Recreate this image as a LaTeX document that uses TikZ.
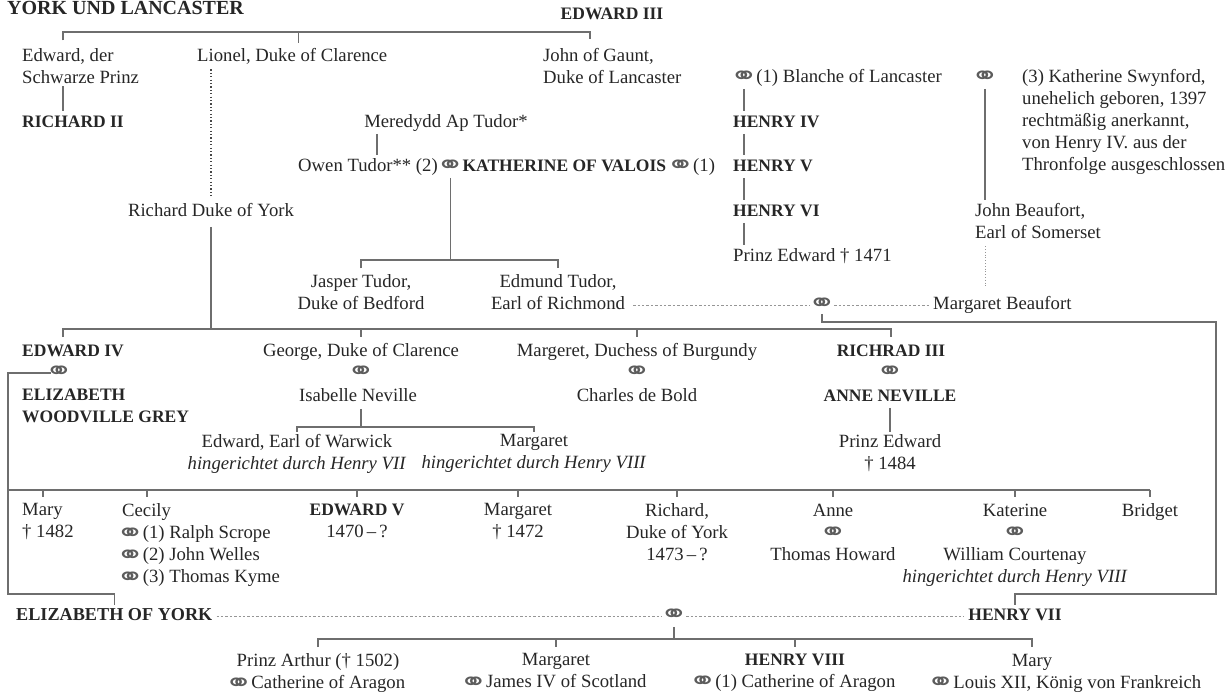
\documentclass[tikz,border=0pt]{standalone}
\usepackage{fontspec}
\setmainfont{Liberation Serif}
\newfontfamily\ringfont{DejaVu Sans}
\usepackage{graphicx}
\usepackage{xcolor}
\usepackage{tikz}
\usetikzlibrary{positioning, calc}
\definecolor{ink}{RGB}{38,38,38}
\definecolor{linegray}{RGB}{110,110,110}
\definecolor{dotgray}{RGB}{150,150,150}
\newcommand{\marr}{\makebox[16pt]{\raisebox{-2.5pt}{\color{ink!75}\ringfont\fontsize{14}{14}\selectfont\scalebox{2.4}[1.8]{⚭}}}}
\tikzset{
  % Namen
  person/.style={inner sep=0pt, text=ink, font=\fontsize{18.7}{22}\selectfont},
  one line/.style={person, text height=13pt, text depth=4.5pt},
  king/.style={one line, font=\fontsize{17.5}{22}\selectfont\bfseries},
  ring/.style={one line},
  block/.style={person, align=center, anchor=north},
  block left/.style={person, align=left, anchor=north west},
  % Verbindungen
  connect/.style={line width=1.1pt, linegray},
  link/.style={connect, shorten <=2pt, shorten >=3pt},
  connect dotted/.style={line width=1.2pt, ink!85, dash pattern=on 1.2pt off 2.2pt},
  connect faint/.style={line width=1pt, dotgray, dash pattern=on 1pt off 1.8pt},
  connect dashed/.style={line width=0.9pt, dotgray, dash pattern=on 2.4pt off 2pt, shorten <=4pt, shorten >=4pt}
}
\begin{document}
\begin{tikzpicture}[x=1pt,y=-1pt]
  \useasboundingbox (0,0) rectangle (1228,700);
  % Kopf
  \node[king, anchor=west, font=\fontsize{20}{22}\selectfont\bfseries] (title) at (7,10) {YORK UND LANCASTER};
  \node[king] (edw3) at (612,15) {EDWARD III};
  % Söhne Edwards III
  \node[block left] (edprince) at (22,48.5) {Edward, der\\Schwarze Prinz};
  \node[one line, anchor=west] (lionel) at (197,57) {Lionel, Duke of Clarence};
  \node[block left] (gaunt) at (543,48.5) {John of Gaunt,\\Duke of Lancaster};
  \node[ring] (mblanche) at (744,78) {\marr};
  \node[one line, right=4pt of mblanche] (blanche) {(1) Blanche of Lancaster};
  \node[ring] (mswyn) at (985,78) {\marr};
  \node[block left] (swyn) at (1022,69.5) {(3) Katherine Swynford,\\unehelich geboren, 1397\\rechtmäßig anerkannt,\\von Henry IV. aus der\\Thronfolge ausgeschlossen};
  \node[king, anchor=west] (rich2) at (22,123) {RICHARD II};
  \node[one line] (meredydd) at (446,123) {Meredydd Ap Tudor*};
  \node[king, anchor=west] (henry4) at (733,123) {HENRY IV};
  \node[one line, anchor=west] (owen) at (298,167) {Owen Tudor** (2)};
  \node[ring, right=4pt of owen] (mowen) {\marr};
  \node[king, right=4pt of mowen] (kath) {KATHERINE OF VALOIS};
  \node[one line, right=6pt of kath] (mkath) {\marr\ (1)};
  \node[king, anchor=west] (henry5) at (733,167) {HENRY V};
  \node[one line] (rdy) at (211,212) {Richard Duke of York};
  \node[king, anchor=west] (henry6) at (733,212) {HENRY VI};
  \node[block left] (beaufort) at (975,203.5) {John Beaufort,\\Earl of Somerset};
  \node[one line, anchor=west] (pedw) at (733,257) {Prinz Edward † 1471};
  \node[block] (jasper) at (361,274.5) {Jasper Tudor,\\Duke of Bedford};
  \node[block] (edmund) at (558,274.5) {Edmund Tudor,\\Earl of Richmond};
  \node[ring] (mtudor) at (822,305) {\marr};
  \node[one line, anchor=west] (mbeau) at (933,305) {Margaret Beaufort};
  % York
  \node[king, anchor=west] (edw4) at (22,352) {EDWARD IV};
  \node[ring] (m4) at (59,373) {\marr};
  \node[block left, font=\fontsize{17.5}{22}\selectfont\bfseries] (eliz) at (22,388.5) {ELIZABETH\\WOODVILLE GREY};
  \node[one line] (george) at (361,352) {George, Duke of Clarence};
  \node[ring] (gm) at (361,373) {\marr};
  \node[one line] (isabelle) at (358,397) {Isabelle Neville};
  \node[block] (warwick) at (297,434.5) {Edward, Earl of Warwick\\\textit{hingerichtet durch Henry VII}};
  \node[block] (margneville) at (534,434.5) {Margaret\\\textit{hingerichtet durch Henry VIII}};
  \node[one line] (burg) at (637,352) {Margeret, Duchess of Burgundy};
  \node[ring] (bm) at (637,373) {\marr};
  \node[one line] (charles) at (637,397) {Charles de Bold};
  \node[king] (r3) at (891,352) {RICHRAD III};
  \node[ring] (r3m) at (890,373) {\marr};
  \node[king] (anne) at (890,397) {ANNE NEVILLE};
  \node[block] (pe) at (890,434.5) {Prinz Edward\\† 1484};
  % Kinder Edwards IV
  \node[block left] (mary) at (22,503.5) {Mary\\† 1482};
  \node[block left] (cecily) at (122,503.5) {Cecily\\\marr\ (1) Ralph Scrope\\\marr\ (2) John Welles\\\marr\ (3) Thomas Kyme};
  \node[block] (edw5) at (357,503.5) {{\fontsize{17.5}{22}\selectfont\bfseries EDWARD V}\\1470\,–\,?};
  \node[block] (marg2) at (518,503.5) {Margaret\\† 1472};
  \node[block] (rich) at (677,503.5) {Richard,\\Duke of York\\1473\,–\,?};
  \node[block] (anne2) at (833,503.5) {Anne\\\marr\\Thomas Howard};
  \node[block] (kat) at (1015,503.5) {Katerine\\\marr\\William Courtenay\\\textit{hingerichtet durch Henry VIII}};
  \node[block] (bridget) at (1150,503.5) {Bridget};
  % Tudor
  \node[king, anchor=west, font=\fontsize{18.2}{22}\selectfont\bfseries] (eyork) at (16,616) {ELIZABETH OF YORK};
  \node[ring] (m7) at (674,616) {\marr};
  \node[king] (henry7) at (1015,616) {HENRY VII};
  \node[block] (arthur) at (318,653.5) {Prinz Arthur († 1502)\\\marr\ Catherine of Aragon};
  \node[block] (marg3) at (556,653.5) {Margaret\\\marr\ James IV of Scotland};
  \node[block] (henry8) at (795,653.5) {{\fontsize{17.5}{22}\selectfont\bfseries HENRY VIII}\\\marr\ (1) Catherine of Aragon};
  \node[one line] (mary3) at (1032,662) {Mary};
  \node[one line] (louis) at (1067,684) {\marr\ Louis XII, König von Frankreich};

  % Linien
  \coordinate (bar3) at (0,32);
  \coordinate (bartudor) at (0,260);
  \coordinate (bar4) at (0,329);
  \coordinate (barneville) at (0,427);
  \coordinate (bar5) at (0,490);
  \coordinate (lowbar) at (0,594);
  \coordinate (bar7) at (0,639);
  \coordinate (rc) at (1216,322);
  \coordinate (lc) at (8,373);
  \coordinate (owenline) at ([xshift=79pt]owen.north west);
  \coordinate (gaunttick) at ([xshift=47pt,yshift=9pt]gaunt.north west);
  \coordinate (lioneltick) at ([xshift=6pt,yshift=5pt]lionel.north);
  \coordinate (marytick) at ([xshift=21pt,yshift=6.5pt]mary.north west);
  \coordinate (cecilytick) at ([xshift=25pt,yshift=6.5pt]cecily.north west);
  % Edward III
  \draw[connect] ([xshift=41pt,yshift=8pt]edprince.north west) |- (bar3 -| gaunttick) -- (gaunttick);
  \draw[connect] (bar3 -| lioneltick) -- (lioneltick);
  \draw[link] ([xshift=41pt]edprince.south west) -- ([xshift=41pt]rich2.north west);
  \draw[connect dotted, shorten <=3.5pt, shorten >=6pt] (lionel.south -| rdy.north) -- (rdy.north);
  % Lancaster
  \draw[link] (mblanche.south) -- (henry4.north -| mblanche);
  \draw[link] (henry4.south -| mblanche) -- (henry5.north -| mblanche);
  \draw[link] (henry5.south -| mblanche) -- (henry6.north -| mblanche);
  \draw[link] (henry6.south -| mblanche) -- (pedw.north -| mblanche);
  \draw[link] (mswyn.south) -- (beaufort.north -| mswyn);
  \draw[connect faint, shorten <=7pt, shorten >=8pt] (beaufort.south -| mswyn) -- (mbeau.north -| mswyn);
  % Tudor
  \draw[link] (meredydd.south -| owenline) -- (owenline);
  \draw[connect, shorten <=2pt] (mowen.south) -- (bartudor -| mowen);
  \draw[connect] ([yshift=6pt]jasper.north) |- (bartudor -| edmund.north) -- ([yshift=6pt]edmund.north);
  \draw[connect dashed, shorten <=8pt] (edmund.east |- mtudor) -- (mtudor.west);
  \draw[connect dashed] (mtudor.east) -- (mbeau.west);
  \draw[connect] (mtudor.south) |- (rc) |- (lowbar -| henry7.north) -- ([yshift=2pt]henry7.north);
  % York
  \draw[connect, shorten <=6pt] (rdy.south) -- (bar4 -| rdy);
  \draw[connect] ([xshift=41pt,yshift=6pt]edw4.north west) |- (bar4 -| r3.north) -- ([yshift=6pt]r3.north);
  \draw[connect] (bar4 -| george.north) -- ([yshift=6pt]george.north);
  \draw[connect] (bar4 -| burg.north) -- ([yshift=6pt]burg.north);
  \draw[connect, shorten <=3pt] (isabelle.south -| gm) -- (barneville -| gm);
  \draw[connect] ([yshift=3pt]warwick.north) |- (barneville -| margneville.north) -- ([yshift=3pt]margneville.north);
  \draw[link] (anne.south) -- (pe.north);
  % Edward IV und Elizabeth
  \draw[connect] (m4.west) -- (lc) |- (lowbar -| eyork.north) -- ([yshift=2pt]eyork.north);
  \draw[connect] (bar5 -| lc) -- (bar5 -| bridget.north);
  \draw[connect] (bar5 -| marytick) -- (marytick);
  \draw[connect] (bar5 -| cecilytick) -- (cecilytick);
  \foreach \k in {edw5,marg2,rich,anne2,kat,bridget}
    \draw[connect] (bar5 -| \k.north) -- ([yshift=6.5pt]\k.north);
  % Henry VII und Elizabeth of York
  \draw[connect dashed] (eyork.east) -- (m7.west);
  \draw[connect dashed] (m7.east) -- (henry7.west);
  \draw[connect, shorten <=2pt] (m7.south) -- (bar7 -| m7);
  \draw[connect] ([yshift=6.5pt]arthur.north) |- (bar7 -| mary3.north) -- ([yshift=6.5pt]mary3.north);
  \draw[connect] (bar7 -| marg3.north) -- ([yshift=6.5pt]marg3.north);
  \draw[connect] (bar7 -| henry8.north) -- ([yshift=6.5pt]henry8.north);
\end{tikzpicture}
\end{document}
